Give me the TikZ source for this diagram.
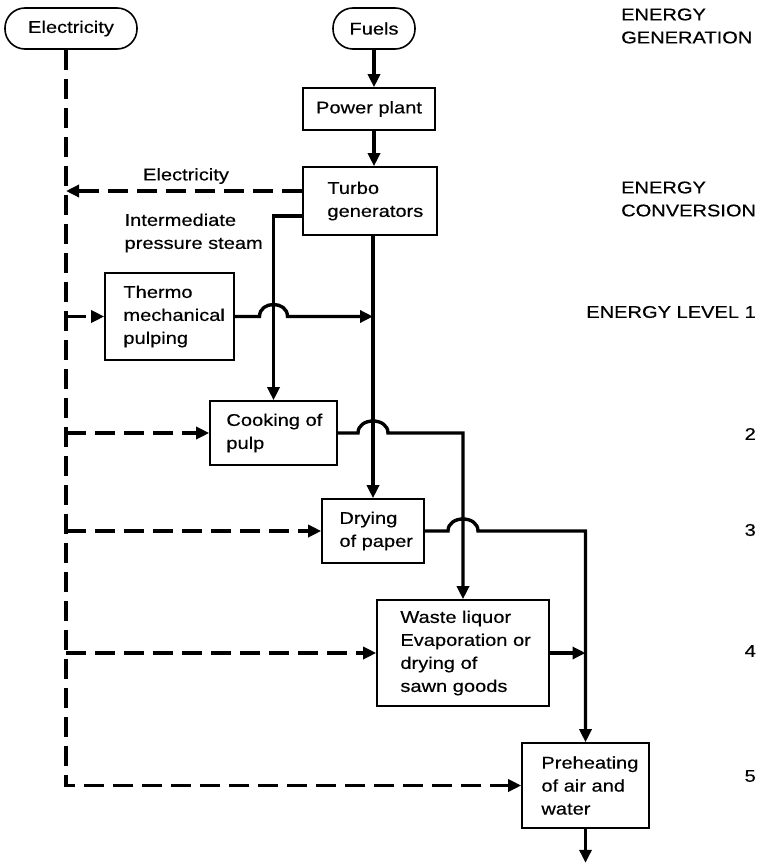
\documentclass[tikz,border=0pt]{standalone}
\usepackage{fontspec}
\setmainfont{Liberation Sans}[FakeStretch=1.18, FakeBold=0.4]
\usetikzlibrary{arrows.meta}
\begin{document}
\begin{tikzpicture}[x=1pt,y=-1pt,
  every node/.style={font=\fontsize{17}{23}\selectfont, inner sep=0pt},
  box/.style={draw, line width=1.6pt, rectangle},
  terminal/.style={draw, line width=1.6pt, rounded corners=20pt, minimum height=41pt},
  txt/.style={align=left, anchor=west},
  tip/.style={-{Triangle[length=13pt,width=12pt]}},
  flow/.style={line width=3.4pt, tip},
  elec/.style={line width=3.6pt, dash pattern=on 20pt off 9pt, tip},
]
\useasboundingbox (0,0) rectangle (760,864);

% sources
\node[terminal, minimum width=132pt] (elec) at (71,28.5) {Electricity};
\node[terminal, minimum width=82pt] (fuels) at (374,28.5) {Fuels};

% process boxes
\node[box, minimum width=132pt, minimum height=42pt] (pp) at (369,109) {Power plant};
\node[box, minimum width=134pt, minimum height=68pt] (turbo) at (370,201) {};
\node[txt] (turbo-t) at ([xshift=25pt]turbo.west) {Turbo\\generators};
\node[box, minimum width=129pt, minimum height=87pt] (thermo) at (169.5,316.5) {};
\node[txt] (thermo-t) at ([xshift=19pt]thermo.west) {Thermo\\mechanical\\pulping};
\node[box, minimum width=127pt, minimum height=64pt] (cook) at (273.5,433) {};
\node[txt] (cook-t) at ([xshift=17pt]cook.west) {Cooking of\\pulp};
\node[box, minimum width=102pt, minimum height=64pt] (dry) at (373,531) {};
\node[txt] (dry-t) at ([xshift=18pt]dry.west) {Drying\\of paper};
\node[box, minimum width=172pt, minimum height=106pt] (waste) at (463,653) {};
\node[txt] (waste-t) at ([xshift=24pt]waste.west) {Waste liquor\\Evaporation or\\drying of\\sawn goods};
\node[box, minimum width=127pt, minimum height=85pt] (pre) at (585.5,785.5) {};
\node[txt] (pre-t) at ([xshift=20pt]pre.west) {Preheating\\of air and\\water};

% level captions
\node[txt] (gen) at (621,26) {ENERGY\\GENERATION};
\node[txt] (conv) at (621,199) {ENERGY\\CONVERSION};
\node[anchor=east] (lv1) at (756,312) {ENERGY LEVEL 1};
\node[anchor=east] (lv2) at (756,434) {2};
\node[anchor=east] (lv3) at (756,530) {3};
\node[anchor=east] (lv4) at (756,651) {4};
\node[anchor=east] (lv5) at (756,776) {5};

% flow labels
\node (elec-l) at (186,176) {Electricity};
\node[align=left, anchor=east] (steam-l) at (263,233) {Intermediate\\pressure steam};

% helper points
\coordinate (bus) at ([xshift=-5pt]elec.south);
\coordinate (tgE) at ([yshift=10pt]turbo.west);
\coordinate (tgS) at ([yshift=-15pt]turbo.west);
\coordinate (h1) at (cook.north |- thermo.east);
\coordinate (h2) at (dry.north |- cook.east);
\coordinate (h3) at (waste.north |- dry.east);
\coordinate (exit) at ([yshift=-34pt]pre.south);

% fuel and steam flows
\draw[flow] (fuels.south) -- (fuels.south |- pp.north);
\draw[flow] (fuels.south |- pp.south) -- (fuels.south |- turbo.north);
\draw[flow] (tgS) -| (cook.north);
\draw[flow] (turbo.south -| dry.north) -- (dry.north);
\draw[flow] (thermo.east) -- ([xshift=-14pt]h1)
  .. controls +(0,-16) and +(0,-16) .. ([xshift=14pt]h1) -- (dry.north |- thermo.east);
\draw[flow] (cook.east) -- ([xshift=-15pt]h2)
  .. controls +(0,-16) and +(0,-16) .. ([xshift=15pt]h2) -| (waste.north);
\draw[flow] (dry.east) -- ([xshift=-15pt]h3)
  .. controls +(0,-16) and +(0,-16) .. ([xshift=15pt]h3) -| (pre.north);
\draw[flow] (waste.east) -- (pre.north |- waste.east);
\draw[flow] (pre.south) -- (exit);

% electricity distribution
\draw[elec] (tgE) -- (bus |- tgE);
\draw[elec] (bus) |- (pre.west);
\draw[elec] (bus |- thermo.west) -- (thermo.west);
\draw[elec] (bus |- cook.west) -- (cook.west);
\draw[elec] (bus |- dry.west) -- (dry.west);
\draw[elec] (bus |- waste.west) -- (waste.west);
\end{tikzpicture}
\end{document}
